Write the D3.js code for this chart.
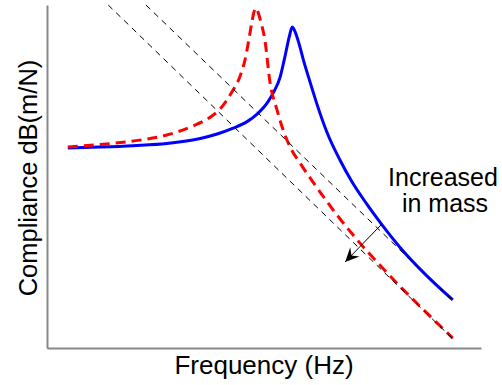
<!DOCTYPE html>
<html>
<head>
<meta charset="utf-8">
<script src="https://cdn.jsdelivr.net/npm/d3@7"></script>
<style>
  body { margin: 0; background: #fff; }
  text { font-family: Arial, "Liberation Sans", sans-serif; fill: #000; }
</style>
</head>
<body>
<script>
// values (arbitrary units, 0..100 on both axes)
var blueFreq = [4.8, 12.2, 19.8, 27.6, 31.3, 35.3, 39.2, 42.9, 46.1, 48.4, 50.7, 52.1, 53.7, 54.8, 55.8, 56.5, 57.1, 58.1, 59.2, 60.6, 62.2, 64.5, 67.5, 70.3, 73.5, 77.2, 81.3, 86.6, 93.5];
var blueComp = [58.3, 58.6, 59.0, 59.6, 60.2, 61.1, 62.4, 64.1, 66.0, 68.2, 71.4, 74.3, 78.9, 84.8, 90.6, 93.6, 92.4, 88.6, 83.4, 77.6, 71.1, 62.9, 54.8, 48.4, 42.3, 35.9, 29.4, 22.2, 14.0];

var redFreq = [4.8, 13.8, 21.4, 27.6, 33.6, 37.6, 39.9, 42.6, 44.5, 45.6, 46.5, 47.2, 47.7, 48.2, 48.6, 49.3, 50.2, 51.4, 53.0, 54.4, 56.0, 58.3, 61.1, 64.1, 66.8, 70.5, 73.7, 76.7, 79.7, 82.9, 85.9, 88.9, 93.5];
var redComp = [58.6, 59.5, 60.6, 62.1, 64.7, 67.3, 69.7, 74.6, 79.3, 83.9, 89.8, 95.0, 98.0, 99.1, 98.0, 95.0, 89.8, 77.3, 69.4, 63.6, 58.6, 53.9, 48.7, 43.4, 38.8, 33.0, 28.3, 24.2, 20.1, 16.0, 12.2, 8.5, 2.9];

// mass lines (start, end) and the arrow
var massLines = [
  [[14.1, 100], [93.8, 2.3]],
  [[22.8, 100], [93.8, 13.4]]
];
var arrowPts = [[77.2, 36.2], [68.7, 25.1]];

var W = 502, H = 385;
var svg = d3.select("body").append("svg")
    .attr("width", W).attr("height", H);

var x = d3.scaleLinear().domain([0, 100]).range([47, 481]);
var y = d3.scaleLinear().domain([0, 100]).range([348, 5]);

// axes, no ticks
svg.append("g")
    .attr("transform", "translate(0,348)")
    .call(d3.axisBottom(x).ticks(0).tickSizeOuter(0))
    .select(".domain").attr("stroke", "#888").attr("stroke-width", 2);
svg.append("g")
    .attr("transform", "translate(47,0)")
    .call(d3.axisLeft(y).ticks(0).tickSizeOuter(0))
    .select(".domain").attr("stroke", "#888").attr("stroke-width", 2);

var line = d3.line()
    .x(function(d) { return x(d[0]); })
    .y(function(d) { return y(d[1]); })
    .curve(d3.curveMonotoneX);

var blue = blueFreq.map(function(f, i) { return [f, blueComp[i]]; });
var red = redFreq.map(function(f, i) { return [f, redComp[i]]; });

svg.append("path").datum(blue)
    .attr("d", line)
    .attr("fill", "none")
    .attr("stroke", "#0000ff")
    .attr("stroke-width", 3);

svg.append("path").datum(red)
    .attr("d", line)
    .attr("fill", "none")
    .attr("stroke", "#ff0000")
    .attr("stroke-width", 3)
    .attr("stroke-dasharray", "10,6");

var straight = d3.line()
    .x(function(d) { return x(d[0]); })
    .y(function(d) { return y(d[1]); });

svg.selectAll(".mass").data(massLines).enter().append("path")
    .attr("class", "mass")
    .attr("d", straight)
    .attr("fill", "none")
    .attr("stroke", "#000")
    .attr("stroke-width", 1)
    .attr("stroke-dasharray", "6,5");

// arrow
svg.append("defs").append("marker")
    .attr("id", "head")
    .attr("viewBox", "-15 -7 16 14")
    .attr("refX", 0).attr("refY", 0)
    .attr("markerWidth", 16).attr("markerHeight", 14)
    .attr("markerUnits", "userSpaceOnUse")
    .attr("orient", "auto")
    .append("path")
    .attr("d", "M0,0 L-14,-6.5 L-9,0 L-14,6.5 Z")
    .attr("fill", "#000");

svg.append("path").datum(arrowPts)
    .attr("d", straight)
    .attr("stroke", "#000")
    .attr("stroke-width", 1)
    .attr("marker-end", "url(#head)");

// labels
svg.append("text")
    .attr("x", 443).attr("y", 186)
    .attr("text-anchor", "middle")
    .attr("font-size", 25)
    .text("Increased");
svg.append("text")
    .attr("x", 445).attr("y", 212)
    .attr("text-anchor", "middle")
    .attr("font-size", 25)
    .text("in mass");

svg.append("text")
    .attr("x", 264).attr("y", 374)
    .attr("text-anchor", "middle")
    .attr("font-size", 26)
    .text("Frequency (Hz)");

svg.append("text")
    .attr("transform", "translate(37,178) rotate(-90)")
    .attr("text-anchor", "middle")
    .attr("font-size", 25.5)
    .text("Compliance dB(m/N)");
</script>
</body>
</html>
